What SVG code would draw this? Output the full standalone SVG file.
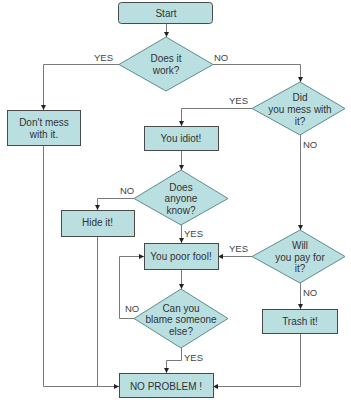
<svg xmlns="http://www.w3.org/2000/svg" width="351" height="400" viewBox="0 0 351 400">
<style>
.box{fill:#b9dfe1;stroke:#4a4a4a;stroke-width:1}
.dia{fill:#b9dfe1;stroke:#5f8c8e;stroke-width:1}
.t{font-family:"Liberation Sans",Arial,sans-serif;font-size:10px;fill:#333;text-anchor:middle;dominant-baseline:central}
.l{font-family:"Liberation Sans",Arial,sans-serif;font-size:9.5px;fill:#444;dominant-baseline:central}
.c{fill:none;stroke:#7a7a7a;stroke-width:1}
</style>
<defs>
<marker id="a" viewBox="0 0 6 6" refX="6" refY="3" markerWidth="5" markerHeight="5" orient="auto" markerUnits="userSpaceOnUse">
<path d="M0,0 L6,3 L0,6 z" fill="#222"/>
</marker>
</defs>
<rect width="351" height="400" fill="#fff"/>
<g id="connectors">
<path class="c" d="M166.5,23 V37" marker-end="url(#a)"/>
<path class="c" d="M119,64.5 H43.5 V110" marker-end="url(#a)"/>
<path class="c" d="M213,64.5 H300.5 V82" marker-end="url(#a)"/>
<path class="c" d="M252,108.5 H181.5 V126" marker-end="url(#a)"/>
<path class="c" d="M300.5,135 V230" marker-end="url(#a)"/>
<path class="c" d="M181.5,150 V170" marker-end="url(#a)"/>
<path class="c" d="M134,198.5 H97.5 V210" marker-end="url(#a)"/>
<path class="c" d="M181.5,225 V243" marker-end="url(#a)"/>
<path class="c" d="M252,256.5 H218" marker-end="url(#a)"/>
<path class="c" d="M181.5,269 V289" marker-end="url(#a)"/>
<path class="c" d="M134,318.5 H119.5 V256.5 H144" marker-end="url(#a)"/>
<path class="c" d="M181.5,348 V360.5 H166.5 V373" marker-end="url(#a)"/>
<path class="c" d="M300.5,283 V309" marker-end="url(#a)"/>
<path class="c" d="M300.5,333 V386.5 H213" marker-end="url(#a)"/>
<path class="c" d="M43.5,145 V386.5 H119" marker-end="url(#a)"/>
<path class="c" d="M97.5,236 V386.5"/>
</g>
<g id="start"><rect class="box" x="118.5" y="2.5" width="94" height="21" rx="3"/><text class="t" x="166" y="13">Start</text></g>
<g id="does-it-work"><polygon class="dia" points="166,37 213,64.5 166,91 119,64.5"/><text class="t" x="166" y="58">Does it</text><text class="t" x="166" y="70">work?</text></g>
<g id="dont-mess"><rect class="box" x="7.5" y="110.5" width="73" height="35"/><text class="t" x="44" y="122">Don't mess</text><text class="t" x="44" y="134">with it.</text></g>
<g id="did-you-mess"><polygon class="dia" points="300,82 345,108.5 300,135 252,108.5"/><text class="t" x="300" y="97">Did</text><text class="t" x="300" y="109">you mess with</text><text class="t" x="300" y="121">it?</text></g>
<g id="you-idiot"><rect class="box" x="144.5" y="126.5" width="74" height="24"/><text class="t" x="181" y="138">You idiot!</text></g>
<g id="does-anyone-know"><polygon class="dia" points="181,170 228,198.5 181,225 134,198.5"/><text class="t" x="181" y="187">Does</text><text class="t" x="181" y="198.5">anyone</text><text class="t" x="181" y="210">know?</text></g>
<g id="hide-it"><rect class="box" x="61.5" y="210.5" width="73" height="26"/><text class="t" x="97.5" y="222">Hide it!</text></g>
<g id="you-poor-fool"><rect class="box" x="144.5" y="243.5" width="74" height="26"/><text class="t" x="181" y="256">You poor fool!</text></g>
<g id="will-you-pay"><polygon class="dia" points="300,230 345,256.5 300,283 252,256.5"/><text class="t" x="300" y="245">Will</text><text class="t" x="300" y="257">you pay for</text><text class="t" x="300" y="268">it?</text></g>
<g id="blame"><polygon class="dia" points="181,289 228,318.5 181,348 134,318.5"/><text class="t" x="181" y="308">Can you</text><text class="t" x="181" y="319.5">blame someone</text><text class="t" x="181" y="331">else?</text></g>
<g id="trash-it"><rect class="box" x="262.5" y="309.5" width="75" height="24"/><text class="t" x="300" y="321">Trash it!</text></g>
<g id="no-problem"><rect class="box" x="119.5" y="373.5" width="94" height="24"/><text class="t" x="166" y="386">NO PROBLEM !</text></g>
<g id="labels">
<text class="l" x="94" y="57">YES</text>
<text class="l" x="214" y="57">NO</text>
<text class="l" x="229" y="100">YES</text>
<text class="l" x="303" y="144">NO</text>
<text class="l" x="120" y="190">NO</text>
<text class="l" x="184" y="233">YES</text>
<text class="l" x="229" y="248">YES</text>
<text class="l" x="125" y="308">NO</text>
<text class="l" x="184" y="357">YES</text>
<text class="l" x="303" y="292">NO</text>
</g>
</svg>
